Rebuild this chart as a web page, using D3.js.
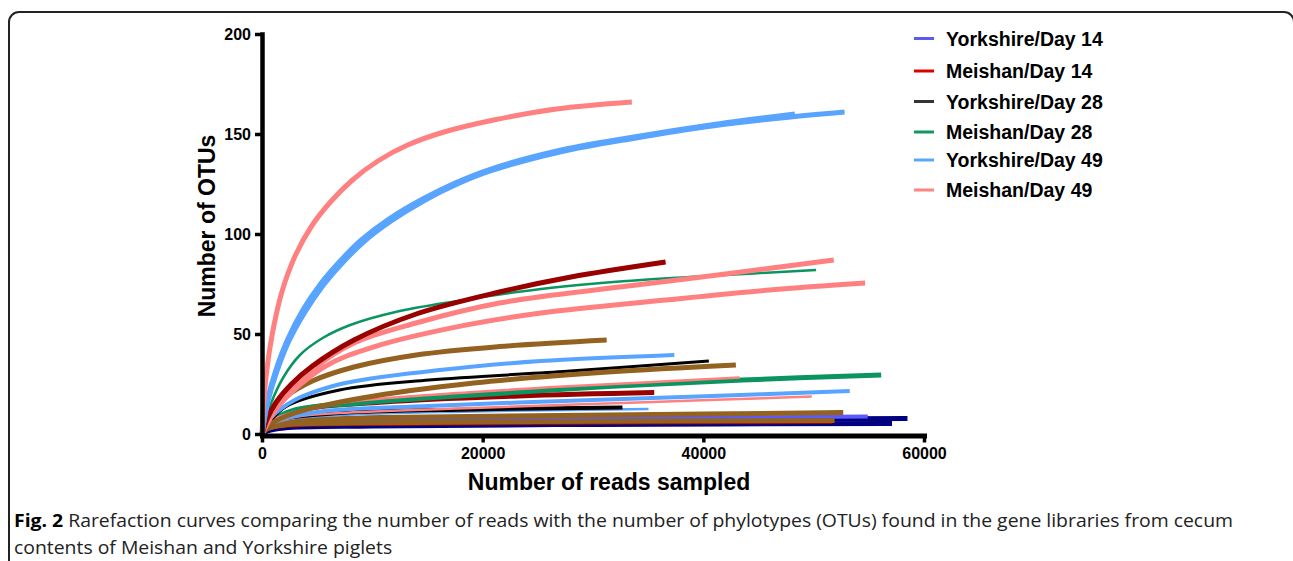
<!DOCTYPE html>
<html>
<head>
<meta charset="utf-8">
<script src="https://cdn.jsdelivr.net/npm/d3@7"></script>
<style>
  html, body { margin: 0; padding: 0; background: #fff; }
  svg { display: block; }
  .axis text { font-family: "Liberation Sans", Arial, sans-serif; font-weight: bold; font-size: 16px; fill: #000; }
  .title { font-family: "Liberation Sans", Arial, sans-serif; font-weight: bold; font-size: 23px; fill: #000; }
  .legend text { font-family: "Liberation Sans", Arial, sans-serif; font-weight: bold; font-size: 19.5px; fill: #000; }
  .caption { font-family: "Open Sans", sans-serif; font-size: 18px; fill: #222; }
</style>
</head>
<body>
<svg id="chart" width="1293" height="561"></svg>
<script>
// Rarefaction curves: [reads sampled, OTUs].
const meishanD49Top = [[0,0],[300,25],[900,49],[1800,71],[3000,89],[4500,104],[6200,116],[8200,127],[10500,136.5],[13200,144.5],[16500,151],[21000,157],[26700,162.5],[33520,166]];
const yorkshireD49TopA = [[0,0],[500,17],[1200,31],[2300,47],[3700,62],[5300,75],[7000,86],[9000,97],[11500,107.5],[14560,117.5],[17500,125.5],[20480,132],[26730,141.5],[33700,148.5],[40650,154.5],[48300,160]];
const yorkshireD49TopB = [[0,0],[550,16.5],[1300,30.5],[2400,46],[3900,61],[5500,74],[7200,85],[9200,96],[11700,106.5],[14800,117],[17700,125],[20700,131.5],[27000,141],[33900,148],[40800,154],[47000,158],[52800,161]];
const meishanD14A = [[0,0],[500,8],[1300,16],[2680,25],[4570,34],[8340,47],[13980,60],[21520,71],[28000,78.5],[36580,86]];
const meishanD28A = [[0,0],[800,15],[1900,28],[3440,39.5],[5500,48],[8000,54.5],[12100,61],[17760,66.5],[25280,72.5],[33000,76.5],[40300,79],[50220,82]];
const meishanD49A = [[0,0],[1500,15],[4530,32],[8340,45.5],[13950,55.5],[21520,65.5],[32800,73.7],[42000,80],[51820,87]];
const meishanD49B = [[0,0],[1500,14],[5690,33.7],[10210,43.7],[17760,53.7],[25280,60.5],[36580,67],[46000,72],[54670,75.5]];
const brownA = [[0,0],[700,10],[2000,18],[4570,26.5],[8340,33.5],[13980,39.5],[21520,43.7],[31240,47]];
const yorkshireD49B = [[0,0],[800,8],[2970,17],[6430,24],[9060,27],[19200,33.7],[25280,36.5],[37370,39.5]];
const yorkshireD28A = [[0,0],[700,6],[2160,13.7],[7030,22],[15130,27],[27300,31.2],[40500,36.5]];
const brownB = [[0,0],[800,5],[2970,10.5],[9060,18],[19200,25.5],[31350,31],[42950,34.5]];
const meishanD49C = [[0,0],[1000,7],[3000,11],[7030,15.5],[15130,19.5],[27300,23.7],[43300,28.2]];
const meishanD28B = [[0,0],[800,6],[2970,12],[9060,15.5],[19200,19.5],[31350,23.7],[43540,27],[56120,29.5]];
const meishanD14B = [[0,0],[800,5],[2970,11.5],[11050,16],[23260,19],[35550,20.7]];
const yorkshireD49C = [[0,0],[600,5],[4980,11],[15130,14],[27300,16.5],[39480,18.7],[53270,21.5]];
const meishanD49D = [[0,0],[800,5],[3000,8.5],[7030,10.5],[19200,13],[35420,16],[49830,18.7]];
const yorkshireD28B = [[0,0],[500,4],[1350,7],[7030,10.5],[19200,12.3],[32670,13.3]];
const yorkshireD49D = [[0,0],[600,4],[2000,7],[7030,9.5],[19200,11.3],[35030,12.5]];
const brownC = [[0,0],[400,3],[1350,5.5],[4000,7],[11050,8.3],[31350,9.5],[52680,10.7]];
const yorkshireD14A = [[0,0],[500,2.5],[2160,4.5],[6000,6],[15130,7.3],[34000,8],[54900,8.7]];
const navyA = [[0,0],[500,2],[2000,4],[8000,5.5],[20000,6.5],[40000,7.3],[58500,7.8]];
const navyB = [[0,0],[500,1.5],[2000,3],[10000,4],[30000,4.8],[57100,5.3]];
const meishanD14C = [[0,0],[500,2],[3000,3.8],[15000,4.6],[35000,5.2],[51700,5.5]];
const brownD = [[0,0],[400,2.5],[2000,4.5],[8000,5.5],[25000,6.2],[51900,6.7]];

// Legend entries
const legendLabels = ['Yorkshire/Day 14', 'Meishan/Day 14', 'Yorkshire/Day 28', 'Meishan/Day 28', 'Yorkshire/Day 49', 'Meishan/Day 49'];
const legendColors = ['#5a5af0', '#dd0000', '#333333', '#109a60', '#5aa5ff', '#ff8585'];

// Axis ticks
const xTicks = [0, 20000, 40000, 60000];
const yTicks = [0, 50, 100, 150, 200];

const pink = '#ff8080', blue = '#58a4ff', darkRed = '#990000', green = '#0a9560',
      brown = '#946220', black = '#000000', navy = '#000080', purple = '#5a5aff';

// Drawing order, bottom first.
const curves = [
  { data: navyA, color: navy, w: 5 },
  { data: navyB, color: navy, w: 5 },
  { data: meishanD14C, color: darkRed, w: 2 },
  { data: yorkshireD14A, color: purple, w: 4 },
  { data: brownD, color: brown, w: 5 },
  { data: brownC, color: brown, w: 5 },
  { data: yorkshireD49D, color: blue, w: 2.5 },
  { data: yorkshireD28B, color: black, w: 4 },
  { data: meishanD49D, color: pink, w: 2.5 },
  { data: yorkshireD49C, color: blue, w: 4 },
  { data: meishanD14B, color: darkRed, w: 5 },
  { data: meishanD28B, color: green, w: 5 },
  { data: meishanD49C, color: pink, w: 2.5 },
  { data: yorkshireD28A, color: black, w: 3 },
  { data: brownB, color: brown, w: 5 },
  { data: yorkshireD49B, color: blue, w: 4 },
  { data: brownA, color: brown, w: 5 },
  { data: meishanD49B, color: pink, w: 5 },
  { data: meishanD28A, color: green, w: 2.5 },
  { data: meishanD49A, color: pink, w: 5 },
  { data: meishanD14A, color: darkRed, w: 5 },
  { data: yorkshireD49TopB, color: blue, w: 5 },
  { data: yorkshireD49TopA, color: blue, w: 5 },
  { data: meishanD49Top, color: pink, w: 5 }
];

const svg = d3.select('#chart');

// Rounded frame around the figure panel.
svg.append('rect').attr('x', 9).attr('y', 12).attr('width', 1285).attr('height', 620)
  .attr('rx', 10).attr('fill', 'none').attr('stroke', '#222').attr('stroke-width', 2);

const x = d3.scaleLinear().domain([0, 60000]).range([262, 924]);
const y = d3.scaleLinear().domain([0, 200]).range([434, 34]);

const line = d3.line().x(d => x(d[0])).y(d => y(d[1])).curve(d3.curveCatmullRom.alpha(0.5));

svg.append('g').selectAll('path').data(curves).enter().append('path')
  .attr('d', d => line(d.data)).attr('fill', 'none')
  .attr('stroke', d => d.color).attr('stroke-width', d => d.w)
  .attr('stroke-linecap', 'butt').attr('stroke-linejoin', 'round');

// Axes
const xAxis = svg.append('g').attr('class', 'axis').attr('transform', 'translate(0,435.5)')
  .call(d3.axisBottom(x).tickValues(xTicks).tickFormat(d3.format('d')).tickSize(7).tickSizeOuter(0).tickPadding(5));
xAxis.select('.domain').attr('stroke-width', 5).attr('stroke-linecap', 'square');
xAxis.selectAll('.tick line').attr('stroke-width', 3.5);

const yAxis = svg.append('g').attr('class', 'axis').attr('transform', 'translate(262,0)')
  .call(d3.axisLeft(y).tickValues(yTicks).tickSize(7).tickSizeOuter(0).tickPadding(4));
yAxis.select('.domain').attr('stroke-width', 4.5).attr('stroke-linecap', 'square');
yAxis.selectAll('.tick line').attr('stroke-width', 3.5);
svg.selectAll('.axis text').attr('font-family', null).attr('font-size', null);

svg.append('text').attr('class', 'title').attr('x', 609).attr('y', 490)
  .attr('text-anchor', 'middle').text('Number of reads sampled');
svg.append('text').attr('class', 'title').attr('transform', 'translate(215,226) rotate(-90)')
  .attr('text-anchor', 'middle').text('Number of OTUs');

// Legend
const legendY = [38.5, 71, 101.5, 132, 160, 190];
const legend = svg.append('g').attr('class', 'legend');
const rows = legend.selectAll('g').data(legendLabels).enter().append('g')
  .attr('transform', (d, i) => `translate(914,${legendY[i]})`);
rows.append('line').attr('x1', 0).attr('x2', 20).attr('y1', 0).attr('y2', 0)
  .attr('stroke', (d, i) => legendColors[i]).attr('stroke-width', 3);
rows.append('text').attr('x', 32).attr('y', 7).text(d => d);

// Caption
const cap1 = svg.append('text').attr('class', 'caption').attr('x', 14).attr('y', 527);
cap1.append('tspan').attr('font-weight', 'bold').attr('fill', '#000').text('Fig. 2');
cap1.append('tspan').text(' Rarefaction curves comparing the number of reads with the number of phylotypes (OTUs) found in the gene libraries from cecum');
const cap2 = svg.append('text').attr('class', 'caption').attr('x', 14).attr('y', 554)
  .text('contents of Meishan and Yorkshire piglets');
const ratio = 1219 / cap1.node().getComputedTextLength();
cap1.attr('textLength', 1219).attr('lengthAdjust', 'spacingAndGlyphs');
cap2.attr('textLength', cap2.node().getComputedTextLength() * ratio).attr('lengthAdjust', 'spacingAndGlyphs');
</script>
</body>
</html>
